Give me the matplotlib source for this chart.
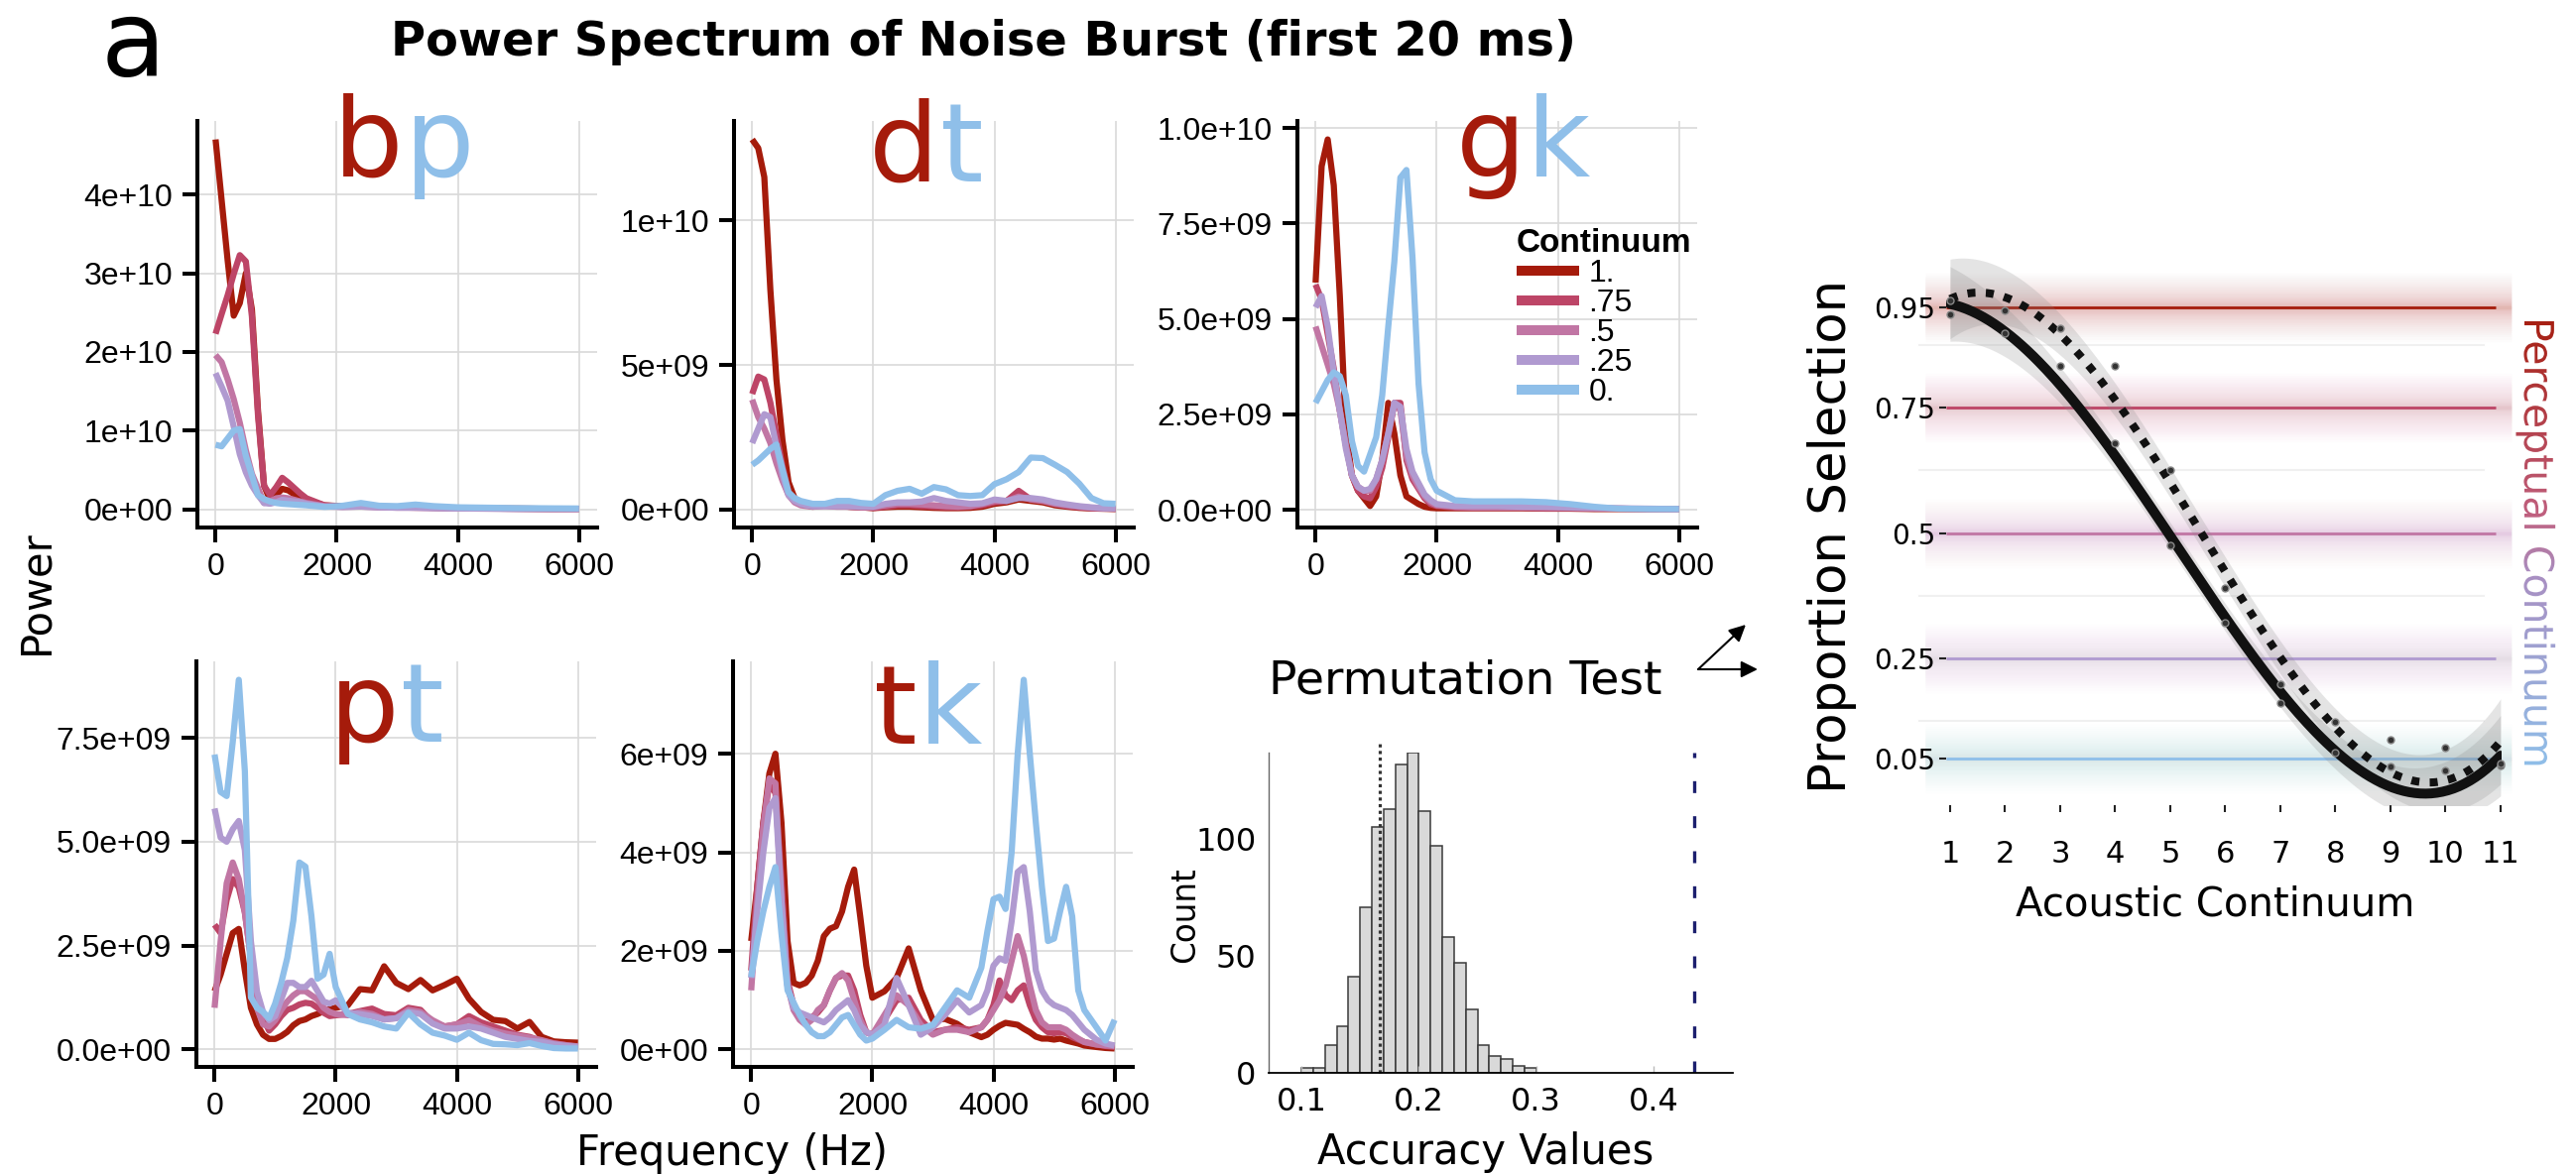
import numpy as np
import matplotlib
matplotlib.use("Agg")
import matplotlib.pyplot as plt
from matplotlib.lines import Line2D
from matplotlib.patches import PathPatch
from matplotlib.textpath import TextPath
from matplotlib.font_manager import FontProperties
from matplotlib.transforms import Affine2D
from matplotlib.colors import LinearSegmentedColormap

W, H = 2597, 1184  # output size in pixels

# continuum steps (legend of the spectra)
cont_labels = ["1.", ".75", ".5", ".25", "0."]
cont_colors = ["#a51b0b", "#bd4567", "#c176a4", "#b09ad0", "#8fbfe9"]
freq_ticks = [0, 2000, 4000, 6000]

# ---- power spectra, values in units of 1e9 ----
bp_freq = [0, 100, 200, 300, 400, 500, 600, 700, 800, 900, 1000, 1100, 1200, 1300, 1400,
           1500, 1800, 2100, 2400, 2700, 3000, 3300, 3600, 4000, 4500, 5000, 5500, 6000]
bp_100 = [47.0, 39.3, 31.6, 24.6, 26.2, 30.0, 25.4, 12.6, 3.0, 1.2, 1.8, 2.6, 2.4, 1.9,
          1.5, 1.1, 0.5, 0.4, 0.45, 0.35, 0.3, 0.25, 0.2, 0.15, 0.1, 0.08, 0.05, 0.05]
bp_075 = [22.3, 24.8, 27.2, 29.9, 32.3, 31.5, 24.5, 12.0, 3.0, 1.8, 2.8, 4.0, 3.4, 2.7,
          2.0, 1.4, 0.5, 0.35, 0.4, 0.3, 0.25, 0.2, 0.2, 0.15, 0.1, 0.08, 0.05, 0.05]
bp_050 = [19.6, 18.7, 16.5, 14.0, 11.0, 7.5, 4.5, 2.7, 0.8, 1.0, 1.4, 1.5, 1.4, 1.2,
          1.0, 0.8, 0.4, 0.3, 0.35, 0.25, 0.2, 0.2, 0.15, 0.1, 0.08, 0.05, 0.04, 0.03]
bp_025 = [17.3, 15.6, 13.8, 10.5, 7.0, 4.7, 3.0, 1.8, 0.8, 0.7, 0.9, 1.2, 1.1, 1.0,
          0.9, 0.7, 0.35, 0.3, 0.35, 0.25, 0.2, 0.2, 0.15, 0.1, 0.08, 0.05, 0.04, 0.03]
bp_000 = [8.2, 8.0, 9.0, 10.0, 10.2, 6.8, 4.3, 1.8, 1.3, 1.0, 0.8, 0.7, 0.65, 0.6,
          0.55, 0.5, 0.3, 0.45, 0.8, 0.45, 0.4, 0.6, 0.4, 0.25, 0.2, 0.15, 0.12, 0.1]
bp_yticks = [0, 1e10, 2e10, 3e10, 4e10]
bp_ylabels = ["0e+00", "1e+10", "2e+10", "3e+10", "4e+10"]

dt_freq = [0, 100, 200, 300, 400, 500, 600, 700, 800, 900, 1000, 1200, 1400, 1600, 1800,
           2000, 2200, 2400, 2600, 2800, 3000, 3200, 3400, 3600, 3800, 4000, 4200, 4400,
           4600, 4800, 5000, 5200, 5400, 5600, 5800, 6000]
dt_100 = [12.8, 12.5, 11.5, 7.6, 4.5, 2.4, 0.95, 0.4, 0.2, 0.15, 0.1, 0.2, 0.15, 0.1, 0.08,
          0.05, 0.08, 0.1, 0.1, 0.08, 0.06, 0.05, 0.05, 0.06, 0.1, 0.2, 0.25, 0.35, 0.3,
          0.25, 0.15, 0.1, 0.06, 0.04, 0.03, 0.02]
dt_075 = [4.0, 4.6, 4.5, 3.7, 2.6, 1.5, 0.6, 0.3, 0.2, 0.15, 0.12, 0.15, 0.12, 0.1, 0.08,
          0.06, 0.1, 0.15, 0.15, 0.12, 0.1, 0.08, 0.08, 0.1, 0.15, 0.25, 0.3, 0.65, 0.35,
          0.3, 0.2, 0.12, 0.08, 0.05, 0.04, 0.03]
dt_050 = [3.8, 3.2, 2.8, 2.3, 1.6, 1.0, 0.5, 0.25, 0.15, 0.12, 0.1, 0.12, 0.1, 0.1, 0.08,
          0.08, 0.15, 0.2, 0.2, 0.18, 0.15, 0.12, 0.1, 0.12, 0.2, 0.3, 0.3, 0.45, 0.35,
          0.3, 0.2, 0.15, 0.1, 0.06, 0.04, 0.03]
dt_025 = [2.3, 2.8, 3.3, 3.2, 2.2, 1.2, 0.5, 0.3, 0.2, 0.15, 0.12, 0.12, 0.12, 0.12, 0.1,
          0.1, 0.2, 0.25, 0.25, 0.28, 0.4, 0.3, 0.25, 0.2, 0.22, 0.35, 0.3, 0.4, 0.4,
          0.35, 0.25, 0.18, 0.12, 0.08, 0.05, 0.04]
dt_000 = [1.55, 1.7, 1.9, 2.1, 2.25, 1.4, 0.6, 0.4, 0.3, 0.25, 0.2, 0.2, 0.3, 0.3, 0.23,
          0.2, 0.5, 0.65, 0.72, 0.55, 0.78, 0.7, 0.5, 0.47, 0.5, 0.88, 1.05, 1.3, 1.8,
          1.78, 1.55, 1.3, 0.9, 0.4, 0.22, 0.2]
dt_yticks = [0, 5e9, 1e10]
dt_ylabels = ["0e+00", "5e+09", "1e+10"]

gk_freq = [0, 100, 200, 300, 400, 500, 600, 700, 800, 900, 1000, 1100, 1200, 1300, 1400,
           1500, 1600, 1700, 1800, 1900, 2000, 2300, 2600, 3000, 3400, 3800, 4200, 4600,
           5000, 5500, 6000]
gk_100 = [5.95, 9.0, 9.7, 8.5, 5.6, 2.1, 0.9, 0.5, 0.3, 0.1, 0.35, 1.3, 2.8, 2.0, 0.9,
          0.35, 0.25, 0.15, 0.08, 0.05, 0.04, 0.04, 0.04, 0.04, 0.04, 0.03, 0.03, 0.02,
          0.02, 0.02, 0.02]
gk_075 = [5.9, 5.5, 4.6, 3.7, 2.6, 1.7, 0.9, 0.5, 0.35, 0.3, 0.6, 1.1, 1.9, 2.8, 2.8,
          1.3, 0.8, 0.55, 0.3, 0.15, 0.1, 0.06, 0.05, 0.05, 0.05, 0.04, 0.04, 0.03, 0.03,
          0.02, 0.02]
gk_050 = [4.8, 4.3, 3.8, 3.3, 2.6, 1.7, 0.9, 0.6, 0.5, 0.5, 0.8, 1.3, 2.0, 2.8, 2.6,
          1.4, 0.9, 0.6, 0.35, 0.2, 0.12, 0.08, 0.06, 0.06, 0.06, 0.05, 0.05, 0.04, 0.03,
          0.02, 0.02]
gk_025 = [5.3, 5.6, 4.8, 3.6, 2.6, 1.6, 0.9, 0.6, 0.5, 0.55, 0.8, 1.3, 2.0, 2.8, 2.7,
          1.6, 1.0, 0.7, 0.4, 0.25, 0.15, 0.1, 0.1, 0.1, 0.08, 0.08, 0.06, 0.05, 0.04,
          0.03, 0.02]
gk_000 = [2.8, 3.1, 3.4, 3.6, 3.5, 3.0, 1.8, 1.15, 1.0, 1.45, 1.9, 3.0, 4.8, 6.5, 8.7,
          8.9, 6.6, 3.3, 1.5, 0.8, 0.5, 0.25, 0.22, 0.22, 0.22, 0.2, 0.15, 0.08, 0.03,
          0.02, 0.02]
gk_yticks = [0, 2.5e9, 5e9, 7.5e9, 1e10]
gk_ylabels = ["0.0e+00", "2.5e+09", "5.0e+09", "7.5e+09", "1.0e+10"]

pt_freq = [0, 100, 200, 300, 400, 500, 600, 700, 800, 900, 1000, 1100, 1200, 1300, 1400,
           1500, 1600, 1700, 1800, 1900, 2000, 2200, 2400, 2600, 2800, 3000, 3200, 3400,
           3600, 3800, 4000, 4200, 4400, 4600, 4800, 5000, 5200, 5400, 5600, 5800, 6000]
pt_100 = [1.4, 1.8, 2.3, 2.8, 2.9, 1.9, 1.0, 0.6, 0.35, 0.25, 0.25, 0.32, 0.42, 0.58,
          0.68, 0.72, 0.8, 0.85, 0.92, 0.97, 1.0, 1.06, 1.45, 1.42, 2.0, 1.6, 1.45, 1.67,
          1.42, 1.55, 1.7, 1.22, 0.9, 0.71, 0.68, 0.5, 0.66, 0.3, 0.19, 0.17, 0.16]
pt_075 = [3.0, 2.8, 3.6, 4.1, 3.9, 3.3, 2.2, 1.2, 0.75, 0.45, 0.6, 0.8, 0.95, 1.0, 1.08,
          1.12, 1.1, 1.0, 0.88, 0.8, 0.82, 0.85, 0.92, 0.98, 0.85, 0.82, 1.0, 0.95, 0.65,
          0.55, 0.6, 0.8, 0.65, 0.55, 0.45, 0.35, 0.3, 0.2, 0.15, 0.1, 0.06]
pt_050 = [1.0, 2.6, 4.0, 4.5, 4.1, 3.3, 2.2, 1.0, 0.6, 0.55, 0.7, 0.95, 1.15, 1.3, 1.4,
          1.4, 1.3, 1.2, 1.0, 0.9, 0.85, 0.82, 0.9, 0.85, 0.72, 0.75, 0.95, 0.9, 0.7,
          0.55, 0.6, 0.7, 0.55, 0.45, 0.38, 0.33, 0.28, 0.22, 0.14, 0.1, 0.07]
pt_025 = [5.8, 5.1, 5.0, 5.3, 5.5, 4.8, 2.6, 1.4, 0.9, 0.7, 0.8, 1.2, 1.6, 1.6, 1.5,
          1.5, 1.65, 1.4, 1.15, 1.1, 1.18, 0.88, 0.85, 0.8, 0.72, 0.75, 0.9, 0.85, 0.62,
          0.5, 0.5, 0.55, 0.5, 0.4, 0.3, 0.25, 0.2, 0.18, 0.12, 0.08, 0.06]
pt_000 = [7.1, 6.2, 6.1, 7.4, 8.9, 6.7, 1.25, 1.0, 0.9, 0.75, 1.1, 1.6, 2.2, 3.1, 4.5,
          4.4, 3.2, 1.7, 1.8, 2.3, 1.5, 0.85, 0.72, 0.65, 0.55, 0.5, 0.88, 0.6, 0.4, 0.33,
          0.23, 0.4, 0.22, 0.13, 0.12, 0.1, 0.15, 0.08, 0.03, 0.02, 0.02]
pt_yticks = [0, 2.5e9, 5e9, 7.5e9]
pt_ylabels = ["0.0e+00", "2.5e+09", "5.0e+09", "7.5e+09"]

tk_freq = [0, 100, 200, 300, 400, 500, 600, 700, 800, 900, 1000, 1100, 1200, 1300, 1400,
           1500, 1600, 1700, 1800, 1900, 2000, 2200, 2400, 2600, 2800, 3000, 3200, 3400,
           3600, 3800, 3900, 4000, 4100, 4200, 4300, 4400, 4500, 4600, 4700, 4800, 4900,
           5000, 5100, 5200, 5300, 5400, 5500, 5700, 5850, 6000]
tk_100 = [2.2, 3.3, 4.6, 5.6, 6.0, 4.6, 2.2, 1.35, 1.3, 1.35, 1.5, 1.8, 2.3, 2.45, 2.5,
          2.8, 3.3, 3.65, 2.7, 1.7, 1.05, 1.18, 1.45, 2.05, 1.2, 0.6, 0.62, 0.52, 0.35,
          0.25, 0.3, 0.4, 0.48, 0.54, 0.52, 0.5, 0.42, 0.35, 0.26, 0.22, 0.22, 0.2, 0.22,
          0.18, 0.15, 0.12, 0.08, 0.05, 0.03, 0.02]
tk_075 = [1.6, 3.3, 4.6, 5.4, 5.2, 3.4, 1.4, 0.9, 0.65, 0.55, 0.65, 0.75, 0.9, 1.2, 1.45,
          1.5, 1.5, 1.2, 0.7, 0.35, 0.3, 0.6, 1.0, 1.05, 0.6, 0.35, 0.4, 0.45, 0.4, 0.45,
          0.6, 0.9, 1.4, 1.1, 1.0, 1.2, 1.3, 0.9, 0.6, 0.45, 0.35, 0.33, 0.35, 0.33, 0.25,
          0.2, 0.15, 0.1, 0.07, 0.05]
tk_050 = [1.2, 3.0, 4.5, 5.5, 5.4, 3.0, 1.3, 0.8, 0.6, 0.5, 0.6, 0.8, 0.9, 1.2, 1.45,
          1.55, 1.4, 1.0, 0.6, 0.35, 0.3, 0.7, 1.1, 0.9, 0.5, 0.3, 0.4, 0.4, 0.35, 0.45,
          0.6, 0.8, 1.0, 1.3, 1.8, 2.3, 1.9, 1.3, 0.8, 0.55, 0.45, 0.45, 0.45, 0.4, 0.3,
          0.22, 0.15, 0.1, 0.08, 0.07]
tk_025 = [1.45, 2.8, 4.0, 4.9, 5.1, 3.0, 1.3, 0.85, 0.75, 0.7, 0.65, 0.6, 0.55, 0.65, 0.8,
          0.9, 1.0, 0.8, 0.5, 0.35, 0.3, 0.5, 1.45, 0.9, 0.3, 0.45, 0.7, 1.0, 0.75, 0.9,
          1.2, 1.7, 1.85, 1.8, 2.6, 3.6, 3.7, 2.8, 1.6, 1.2, 1.0, 0.9, 0.85, 0.8, 0.7,
          0.55, 0.4, 0.2, 0.12, 0.08]
tk_000 = [1.47, 2.2, 2.8, 3.3, 3.7, 2.35, 1.2, 0.95, 0.7, 0.5, 0.35, 0.27, 0.27, 0.35, 0.5,
          0.65, 0.7, 0.5, 0.3, 0.18, 0.22, 0.4, 0.6, 0.45, 0.42, 0.5, 0.85, 1.2, 1.05, 1.66,
          2.4, 3.05, 3.1, 2.85, 4.0, 6.0, 7.5, 6.0, 4.6, 3.3, 2.2, 2.25, 2.8, 3.3, 2.7,
          1.2, 0.8, 0.45, 0.18, 0.6]
tk_yticks = [0, 2e9, 4e9, 6e9]
tk_ylabels = ["0e+00", "2e+09", "4e+09", "6e+09"]

# ---- permutation test ----
hist_left = [0.10, 0.11, 0.12, 0.13, 0.14, 0.15, 0.16, 0.17, 0.18, 0.19,
             0.20, 0.21, 0.22, 0.23, 0.24, 0.25, 0.26, 0.27, 0.28, 0.29]
hist_counts = [2, 2, 12, 20, 41, 71, 105, 113, 132, 137,
               112, 97, 58, 47, 27, 12, 7, 6, 3, 2]
chance_acc = 0.1667
observed_acc = 0.4346

# ---- identification curves ----
acoustic_x = [1, 2, 3, 4, 5, 6, 7, 8, 9, 10, 11]
solid_fit = [0.946, 0.90, 0.827, 0.665, 0.488, 0.305, 0.158, 0.065, 0.021, 0.010, 0.030]
dotted_fit = [0.954, 0.968, 0.915, 0.81, 0.60, 0.378, 0.202, 0.109, 0.07, 0.048, 0.043]
solid_ci = [0.075, 0.05, 0.035, 0.03, 0.028, 0.028, 0.03, 0.035, 0.045, 0.06, 0.08]
dotted_ci = [0.08, 0.055, 0.04, 0.035, 0.03, 0.03, 0.032, 0.038, 0.048, 0.062, 0.085]
solid_pts = [0.938, 0.90, 0.834, 0.68, 0.476, 0.32, 0.16, 0.061, 0.034, 0.026, 0.035]
dotted_pts = [0.964, 0.944, 0.91, 0.834, 0.625, 0.39, 0.197, 0.123, 0.087, 0.07, 0.04]
level_values = [0.95, 0.75, 0.5, 0.25, 0.05]
level_labels = ["0.95", "0.75", "0.5", "0.25", "0.05"]
side_colors = [(0.0, "#a51b0b"), (0.45, "#c0607f"), (0.58, "#a98fc2"), (1.0, "#8fbfe9")]

fig = plt.figure(figsize=(W / 100, H / 100), dpi=100)


def px_axes(left, top, right, bottom):
    return fig.add_axes([left / W, 1 - bottom / H, (right - left) / W, (bottom - top) / H])


def spectrum(box, freq, series, yticks, ylabels):
    ax = px_axes(*box)
    f = np.array(freq)
    for vals, col in zip(series, cont_colors):
        ax.plot(f, np.array(vals) * 1e9, color=col, lw=4.5,
                solid_joinstyle="round", solid_capstyle="butt")
    allv = np.concatenate([np.array(v) for v in series]) * 1e9
    span = allv.max() - allv.min()
    ax.set_ylim(allv.min() - 0.05 * span, allv.max() + 0.05 * span)
    ax.set_xlim(-300, 6300)
    ax.set_xticks(freq_ticks)
    ax.set_xticklabels([str(t) for t in freq_ticks])
    ax.set_yticks(yticks)
    ax.set_yticklabels(ylabels)
    ax.grid(color="#d9d9d9", lw=1.2)
    ax.set_axisbelow(True)
    for s in ["top", "right"]:
        ax.spines[s].set_visible(False)
    for s in ["left", "bottom"]:
        ax.spines[s].set_linewidth(2.9)
    ax.tick_params(length=11, width=2.9, pad=7, labelsize=23,
                   labelfontfamily="Liberation Sans")
    return ax


spectrum((199, 122, 602, 532), bp_freq, [bp_100, bp_075, bp_050, bp_025, bp_000],
         bp_yticks, bp_ylabels)
spectrum((740, 122, 1143, 532), dt_freq, [dt_100, dt_075, dt_050, dt_025, dt_000],
         dt_yticks, dt_ylabels)
ax_gk = spectrum((1308, 122, 1711, 532), gk_freq, [gk_100, gk_075, gk_050, gk_025, gk_000],
                 gk_yticks, gk_ylabels)
spectrum((198, 667, 601, 1076), pt_freq, [pt_100, pt_075, pt_050, pt_025, pt_000],
         pt_yticks, pt_ylabels)
spectrum((739, 667, 1142, 1076), tk_freq, [tk_100, tk_075, tk_050, tk_025, tk_000],
         tk_yticks, tk_ylabels)

handles = [Line2D([], [], color=c, lw=7.2, solid_capstyle="butt") for c in cont_colors]
leg = ax_gk.legend(handles, cont_labels, title="Continuum", loc="upper left",
                   bbox_to_anchor=(1529 / W, 1 - 230 / H), bbox_transform=fig.transFigure,
                   frameon=False, handlelength=1.97, handletextpad=0.3, labelspacing=0.0,
                   borderpad=0, borderaxespad=0, alignment="left",
                   prop={"family": "Liberation Sans", "size": 23},
                   title_fontproperties={"family": "Liberation Sans", "weight": "bold", "size": 24})

# histogram of permuted accuracies
axh = px_axes(1279, 759, 1747, 1082)
axh.bar(hist_left, hist_counts, width=0.01, align="edge", color="#d9d9d9",
        edgecolor="#3a3a3a", lw=1.1)
axh.plot([chance_acc, chance_acc], [0, 141], color="#333333", lw=2.3, dashes=(1, 1.1),
         clip_on=False)
axh.plot([observed_acc, observed_acc], [0, 137], color="#1c1f6e", lw=2.4, dashes=(3.6, 7.0))
axh.set_xlim(0.072, 0.4675)
axh.set_ylim(0, 137)
axh.set_xticks([0.1, 0.2, 0.3, 0.4])
axh.set_xticklabels(["0.1", "0.2", "0.3", "0.4"])
axh.set_yticks([0, 50, 100])
axh.set_yticklabels(["0", "50", "100"])
for s in ["top", "right"]:
    axh.spines[s].set_visible(False)
axh.spines["left"].set_color("#666666")
axh.spines["left"].set_linewidth(1.0)
axh.spines["bottom"].set_linewidth(1.3)
axh.tick_params(axis="x", length=5, width=1, color="#bbbbbb", direction="in", pad=10,
                labelsize=23)
axh.tick_params(axis="y", length=0, pad=9, labelsize=23)

# identification curves with perceptual levels
axr = px_axes(1962, 260, 2522, 812)
axr.set_facecolor("none")
glow_widths = 2 + 48 * np.linspace(0, 1, 26) ** 1.8
for lev, col in zip(level_values, cont_colors):
    # soft glow: stacked translucent strokes, denser near the line
    for lw in glow_widths:
        axr.plot([0.55, 11.2], [lev, lev], color=col, lw=lw, alpha=0.013,
                 solid_capstyle="butt", clip_on=False, zorder=1)
    axr.hlines(lev, 0.93, 10.91, color=col, lw=2.0, zorder=2)
for g in [0.125, 0.375, 0.625, 0.875]:
    axr.plot([0.45, 10.7], [g, g], color="#f0f0f0", lw=1.5, clip_on=False, zorder=0)

xx = np.linspace(1, 11, 200)
for fitv, civ in [(solid_fit, solid_ci), (dotted_fit, dotted_ci)]:
    mid = np.polyval(np.polyfit(acoustic_x, fitv, 3), xx)
    hw = np.polyval(np.polyfit(acoustic_x, civ, 4), xx)
    axr.fill_between(xx, mid - hw, mid + hw, color="#888888", alpha=0.22, lw=0, zorder=3)
axr.plot(xx, np.polyval(np.polyfit(acoustic_x, solid_fit, 3), xx), color="#111111",
         lw=7.2, solid_capstyle="round", zorder=5)
axr.plot(xx, np.polyval(np.polyfit(acoustic_x, dotted_fit, 3), xx), color="#111111",
         lw=5.8, dashes=(1, 1.3), dash_capstyle="butt", zorder=5)
axr.plot(acoustic_x, solid_pts, "o", ms=5, mfc="#333333", mec="#888888", mew=1, zorder=6,
         clip_on=False)
axr.plot(acoustic_x, dotted_pts, "o", ms=5, mfc="#333333", mec="#888888", mew=1, zorder=6,
         clip_on=False)
axr.set_xlim(0.93, 11.02)
axr.set_ylim(-0.044, 1.05)
axr.set_xticks(acoustic_x)
axr.set_xticklabels([str(v) for v in acoustic_x])
axr.set_yticks(level_values)
axr.set_yticklabels(level_labels)
for s in axr.spines.values():
    s.set_visible(False)
axr.tick_params(axis="y", length=5, width=1.5, pad=3, labelsize=20, color="#222222")
axr.tick_params(axis="x", length=5, width=1.5, pad=20, labelsize=22, color="#222222")

# overlay in pixel coordinates for free text
ov = fig.add_axes([0, 0, 1, 1], zorder=10)
ov.set_xlim(0, W)
ov.set_ylim(H, 0)
ov.axis("off")
ov.patch.set_visible(False)

ov.text(102, 76, "a", fontsize=77, va="baseline", ha="left")
ov.text(992, 56, "Power Spectrum of Noise Burst (first 20 ms)", fontsize=34.5,
        fontweight="bold", ha="center", va="baseline")

pairs = [("b", "p", 407, 178), ("d", "t", 947, 183), ("g", "k", 1538, 178),
         ("p", "t", 403, 748), ("t", "k", 925, 750)]
for left, right, jx, base in pairs:
    ov.text(jx, base, left, color=cont_colors[0], fontsize=80, ha="right", va="baseline")
    ov.text(jx + 1, base, right, color=cont_colors[4], fontsize=80, ha="left", va="baseline")

ov.text(36, 597, "Power", fontsize=30, rotation=90, ha="center", va="center")
ov.text(738, 1175, "Frequency (Hz)", fontsize=30, ha="center", va="baseline")
ov.text(1477, 700, "Permutation Test", fontsize=34, ha="center", va="baseline")
ov.text(1498, 1174, "Accuracy Values", fontsize=30, ha="center", va="baseline")
ov.text(1195, 923, "Count", fontsize=23.5, rotation=90, ha="center", va="center")
ov.text(1847, 541, "Proportion Selection", fontsize=37, rotation=90, ha="center", va="center")
ov.text(2233, 923, "Acoustic Continuum", fontsize=29, ha="center", va="baseline")

ov.annotate("", xy=(1760, 630), xytext=(1712, 675),
            arrowprops=dict(arrowstyle="-|>", color="black", lw=1.5, mutation_scale=25,
                            shrinkA=0, shrinkB=0))
ov.annotate("", xy=(1772, 675), xytext=(1712, 675),
            arrowprops=dict(arrowstyle="-|>", color="black", lw=1.5, mutation_scale=25,
                            shrinkA=0, shrinkB=0))

# side label with a colour gradient along the text
side_text = "Perceptual Continuum"
tp = TextPath((0, 0), side_text, size=41, prop=FontProperties(family="DejaVu Sans"))
swap = Affine2D(np.array([[0.0, 1.0, 2545.0], [1.0, 0.0, 320.0], [0.0, 0.0, 1.0]]))
clip = PathPatch(tp, transform=swap + ov.transData, facecolor="none", edgecolor="none")
ov.add_patch(clip)
side_cmap = LinearSegmentedColormap.from_list("side", side_colors)
grad = np.linspace(0, 1, 256).reshape(-1, 1)
im = ov.imshow(grad, cmap=side_cmap, aspect="auto", extent=[2525, 2595, 775, 310],
               origin="upper", interpolation="bilinear")
im.set_clip_path(clip)
ov.set_xlim(0, W)
ov.set_ylim(H, 0)

fig.savefig("out.png", dpi=100)
